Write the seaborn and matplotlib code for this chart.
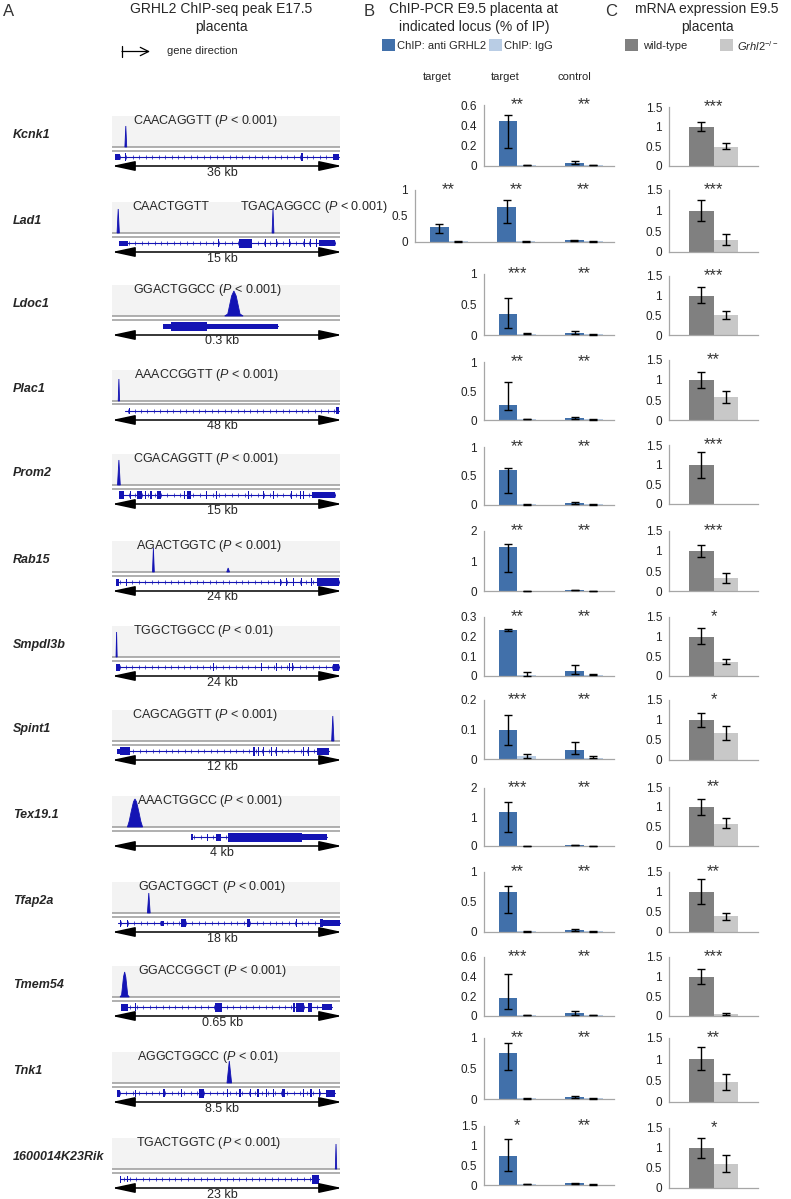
import numpy as np
import pandas as pd
import matplotlib
matplotlib.use('Agg')
import matplotlib.pyplot as plt
from matplotlib.patches import Rectangle, Polygon, FancyArrowPatch
from matplotlib.lines import Line2D
import seaborn as sns

# ---- data -------------------------------------------------------------
genes = ['Kcnk1', 'Lad1', 'Ldoc1', 'Plac1', 'Prom2', 'Rab15', 'Smpdl3b',
         'Spint1', 'Tex19.1', 'Tfap2a', 'Tmem54', 'Tnk1', '1600014K23Rik']

# A: ChIP-seq tracks
motifs = ['CAACAGGTT', 'TGACAGGCC', 'GGACTGGCC', 'AAACCGGTT', 'CGACAGGTT',
          'AGACTGGTC', 'TGGCTGGCC', 'CAGCAGGTT', 'AAACTGGCC', 'GGACTGGCT',
          'GGACCGGCT', 'AGGCTGGCC', 'TGACTGGTC']
pvals = ['0.001', '0.001', '0.001', '0.001', '0.001', '0.001', '0.01',
         '0.001', '0.001', '0.001', '0.001', '0.01', '0.001']
lad1_extra_motif = 'CAACTGGTT'
track_kb = ['36 kb', '15 kb', '0.3 kb', '48 kb', '15 kb', '24 kb', '24 kb',
            '12 kb', '4 kb', '18 kb', '0.65 kb', '8.5 kb', '23 kb']

# B: ChIP-PCR, % of IP (bar value, error low, error high)
chip_target = [0.44, 0.68, 0.35, 0.26, 0.61, 1.48, 0.235, 0.10, 1.17, 0.66, 0.18, 0.76, 0.74]
chip_target_lo = [0.18, 0.37, 0.11, 0.18, 0.20, 0.63, 0.229, 0.047, 0.50, 0.31, 0.07, 0.47, 0.35]
chip_target_hi = [0.50, 0.80, 0.61, 0.65, 0.63, 1.56, 0.241, 0.15, 1.53, 0.76, 0.43, 0.92, 1.17]
igg_target = [0.01, 0.01, 0.02, 0.02, 0.01, 0.01, 0.006, 0.01, 0.01, 0.01, 0.01, 0.01, 0.02]
igg_target_lo = [0.007, 0.006, 0.015, 0.015, 0.007, 0.006, 0.002, 0.003, 0.006, 0.007, 0.007, 0.007, 0.015]
igg_target_hi = [0.013, 0.014, 0.025, 0.025, 0.013, 0.014, 0.018, 0.018, 0.014, 0.013, 0.013, 0.013, 0.025]
chip_control = [0.03, 0.03, 0.03, 0.03, 0.03, 0.03, 0.025, 0.03, 0.04, 0.03, 0.03, 0.03, 0.04]
chip_control_lo = [0.015, 0.015, 0.015, 0.015, 0.015, 0.025, 0.012, 0.018, 0.03, 0.015, 0.015, 0.02, 0.03]
chip_control_hi = [0.05, 0.045, 0.06, 0.05, 0.05, 0.045, 0.055, 0.057, 0.05, 0.05, 0.05, 0.05, 0.05]
igg_control = [0.01, 0.01, 0.01, 0.01, 0.01, 0.01, 0.007, 0.005, 0.01, 0.01, 0.01, 0.01, 0.01]
igg_control_lo = [0.007, 0.007, 0.007, 0.007, 0.007, 0.006, 0.004, 0.002, 0.006, 0.007, 0.007, 0.007, 0.007]
igg_control_hi = [0.013, 0.013, 0.013, 0.013, 0.013, 0.014, 0.01, 0.009, 0.014, 0.013, 0.013, 0.013, 0.013]
# Lad1 has a second target locus
lad1_t1_chip, lad1_t1_chip_lo, lad1_t1_chip_hi = 0.29, 0.17, 0.34
lad1_t1_igg, lad1_t1_igg_lo, lad1_t1_igg_hi = 0.01, 0.006, 0.014
lad1_t1_stars = '**'
chip_ticks = [[0, 0.2, 0.4, 0.6], [0, 0.5, 1], [0, 0.5, 1], [0, 0.5, 1], [0, 0.5, 1],
              [0, 1, 2], [0, 0.1, 0.2, 0.3], [0, 0.1, 0.2], [0, 1, 2], [0, 0.5, 1],
              [0, 0.2, 0.4, 0.6], [0, 0.5, 1], [0, 0.5, 1, 1.5]]
stars_target = ['**', '**', '***', '**', '**', '**', '**', '***', '***', '**', '***', '**', '*']
stars_control = ['**'] * 13

# C: mRNA expression
wt_expr = [1, 1, 1, 1, 1, 1, 1, 1, 1, 1, 1, 1, 1]
wt_lo = [0.88, 0.75, 0.81, 0.79, 0.67, 0.86, 0.81, 0.83, 0.80, 0.70, 0.82, 0.74, 0.76]
wt_hi = [1.13, 1.27, 1.21, 1.21, 1.31, 1.16, 1.21, 1.18, 1.20, 1.32, 1.20, 1.28, 1.24]
ko_expr = [0.49, 0.29, 0.50, 0.57, 0.0, 0.32, 0.36, 0.68, 0.57, 0.39, 0.05, 0.47, 0.61]
ko_lo = [0.42, 0.17, 0.41, 0.43, None, 0.20, 0.30, 0.51, 0.45, 0.31, 0.02, 0.28, 0.41]
ko_hi = [0.59, 0.44, 0.62, 0.73, None, 0.44, 0.43, 0.86, 0.71, 0.48, 0.08, 0.66, 0.83]
mrna_ticks = [0, 0.5, 1, 1.5]
stars_mrna = ['***', '***', '***', '**', '***', '***', '*', '*', '**', '**', '***', '**', '*']

# track drawing content: peaks (centre, width, height px, shape)
peaks = [
    [(0.06, 0.008, 21, 'spike')],
    [(0.027, 0.01, 24, 'spike'), (0.70, 0.008, 24, 'spike')],
    [(0.53, 0.08, 25, 'tent')],
    [(0.03, 0.006, 22, 'spike')],
    [(0.03, 0.012, 25, 'spike')],
    [(0.18, 0.008, 24, 'spike'), (0.505, 0.012, 4, 'spike')],
    [(0.02, 0.005, 25, 'spike')],
    [(0.96, 0.01, 25, 'spike')],
    [(0.10, 0.066, 28, 'mound')],
    [(0.16, 0.012, 20, 'spike')],
    [(0.055, 0.04, 25, 'tent')],
    [(0.51, 0.02, 22, 'spike')],
    [(0.974, 0.006, 25, 'spike')],
]
gene_span = [(0.02, 0.985), (0.03, 0.97), (0.22, 0.72), (0.055, 0.985), (0.03, 0.97),
             (0.018, 0.986), (0.018, 0.986), (0.022, 0.943), (0.342, 0.935), (0.026, 0.993),
             (0.037, 0.956), (0.02, 0.97), (0.035, 0.9)]
exons = [
    [(0.015, 0.02, 6), (0.055, 0.004, 8), (0.82, 0.01, 8), (0.96, 0.025, 6)],
    [(0.03, 0.04, 5), (0.085, 0.004, 8), (0.46, 0.004, 8), (0.55, 0.06, 9), (0.665, 0.004, 8),
     (0.715, 0.004, 8), (0.77, 0.004, 8), (0.835, 0.005, 8), (0.86, 0.005, 8),
     (0.885, 0.005, 8), (0.9, 0.07, 6)],
    [(0.22, 0.5, 5), (0.255, 0.16, 9)],
    [(0.075, 0.003, 6), (0.975, 0.012, 7)],
    [(0.03, 0.02, 8), (0.079, 0.004, 8), (0.11, 0.02, 8), (0.145, 0.004, 8), (0.167, 0.005, 8),
     (0.196, 0.015, 8), (0.237, 0.004, 8), (0.313, 0.004, 8), (0.327, 0.015, 8),
     (0.408, 0.004, 8), (0.437, 0.004, 8), (0.452, 0.004, 8), (0.59, 0.004, 8),
     (0.656, 0.004, 8), (0.70, 0.004, 8), (0.737, 0.004, 8), (0.759, 0.004, 8),
     (0.78, 0.004, 8), (0.817, 0.004, 8), (0.832, 0.004, 8), (0.868, 0.1, 6)],
    [(0.018, 0.014, 7), (0.063, 0.004, 7), (0.73, 0.003, 7), (0.757, 0.004, 8),
     (0.786, 0.004, 8), (0.823, 0.004, 8), (0.866, 0.004, 8), (0.89, 0.096, 8)],
    [(0.018, 0.015, 7), (0.44, 0.004, 8), (0.498, 0.004, 8), (0.649, 0.004, 8),
     (0.715, 0.004, 8), (0.77, 0.004, 8), (0.782, 0.004, 8), (0.96, 0.026, 7)],
    [(0.022, 0.013, 5), (0.035, 0.045, 8), (0.614, 0.006, 9), (0.634, 0.006, 9),
     (0.655, 0.006, 9), (0.69, 0.004, 9), (0.712, 0.004, 9), (0.83, 0.004, 9),
     (0.852, 0.006, 9), (0.89, 0.053, 7)],
    [(0.342, 0.01, 6), (0.412, 0.004, 7), (0.45, 0.025, 7), (0.506, 0.32, 9), (0.825, 0.11, 6)],
    [(0.035, 0.004, 7), (0.066, 0.003, 7), (0.213, 0.015, 5), (0.30, 0.02, 8), (0.49, 0.003, 8),
     (0.588, 0.012, 8), (0.69, 0.003, 8), (0.80, 0.003, 8), (0.904, 0.012, 8), (0.916, 0.077, 6)],
    [(0.037, 0.033, 7), (0.1, 0.003, 8), (0.449, 0.029, 9), (0.787, 0.008, 9),
     (0.80, 0.035, 9), (0.85, 0.018, 9), (0.912, 0.044, 6)],
    [(0.02, 0.015, 7), (0.06, 0.003, 7), (0.1, 0.003, 7), (0.22, 0.01, 8), (0.3, 0.003, 8),
     (0.38, 0.02, 9), (0.45, 0.003, 8), (0.5, 0.003, 8), (0.55, 0.01, 8), (0.6, 0.003, 8),
     (0.63, 0.01, 8), (0.67, 0.003, 8), (0.7, 0.003, 8), (0.74, 0.01, 8), (0.79, 0.003, 8),
     (0.83, 0.003, 8), (0.86, 0.01, 8), (0.9, 0.003, 8), (0.93, 0.04, 7)],
    [(0.035, 0.004, 7), (0.066, 0.003, 6), (0.87, 0.03, 9)],
]
motif_x = [0.09, 0.555, 0.092, 0.097, 0.09, 0.105, 0.09, 0.088, 0.11, 0.115, 0.115, 0.11, 0.105]

# ---- style --------------------------------------------------------------
sns.set_style('white')
plt.rcParams['font.family'] = ['Liberation Sans', 'DejaVu Sans']
plt.rcParams['mathtext.fontset'] = 'custom'
plt.rcParams['mathtext.rm'] = 'Liberation Sans'
plt.rcParams['mathtext.it'] = 'Liberation Sans:italic'

BLUE, LBLUE = '#4170AA', '#B9CDE5'
DGRAY, LGRAY = '#808080', '#C8C8C8'
TRACK = '#1414B4'
SPINE = '#A6A6A6'

W, H = 791, 1199
fig = plt.figure(figsize=(W / 100, H / 100), dpi=100)


def fx(x):
    return x / W


def fy(y):
    return 1 - y / H


def add_ax(x0, ytop, x1, ybot):
    return fig.add_axes([fx(x0), fy(ybot), (x1 - x0) / W, (ybot - ytop) / H])


def style_bar_ax(ax, ticks):
    sns.despine(ax=ax)
    for s in ['left', 'bottom']:
        ax.spines[s].set_color(SPINE)
        ax.spines[s].set_linewidth(0.9)
    ax.set_ylim(0, ticks[-1])
    ax.set_yticks(ticks)
    ax.set_yticklabels([f'{t:g}' for t in ticks])
    ax.tick_params(axis='y', length=3, width=0.8, color=SPINE, labelsize=8.5, pad=2,
                   labelcolor='#222222')
    ax.set_xticks([])
    ax.set_xlabel('')
    ax.set_ylabel('')


def stars(ax, x, y, s):
    ax.text(x, y, s, ha='center', va='center', fontsize=12, color='#333333')


# row layout in pixels
b_top = [105, 190, 274, 362, 447, 531, 617, 700, 788, 872, 957, 1038, 1126]
b_bot = [166, 242, 335, 420, 505, 591, 676, 759, 846, 932, 1016, 1099, 1185]
c_top = [107, 190, 276, 360, 445, 531, 617, 700, 787, 872, 957, 1038, 1128]
c_bot = [166, 252, 335, 420, 504, 591, 676, 760, 846, 932, 1016, 1102, 1188]

loci = ['target1', 'target', 'control']
abs_ = ['anti GRHL2', 'IgG']

for i, g in enumerate(genes):
    # ---- gene label
    fig.text(fx(13), fy(c_bot[i] - 31), g, fontsize=9, fontweight='bold',
             fontstyle='italic', va='center', ha='left')

    # ---- A: track
    ax = add_ax(112, c_bot[i] - 52, 342, c_bot[i] + 14)
    ax.set_xlim(0, 1)
    ax.set_ylim(-14, 52)
    ax.axis('off')
    ax.add_patch(Rectangle((0, 19), 0.99, 31, facecolor='#F3F3F3', edgecolor='none', zorder=0))
    ax.hlines([15.5, 19], 0, 0.99, color='#9A9A9A', lw=1.1, zorder=1)
    for c, w, h, shape in peaks[i]:
        if shape == 'spike':
            px_ = [c - w / 2, c, c + w / 2]
            py_ = [19, 19 + h, 19]
        elif shape == 'tent':
            px_ = [c - w / 2, c - w / 3, c - w / 8, c, c + w / 8, c + w / 3, c + w / 2]
            py_ = [19, 21, 19 + 0.8 * h, 19 + h, 19 + 0.8 * h, 21, 19]
        else:
            px_ = [c - w / 2, c - w / 2.6, c - w / 4, c - w / 10, c, c + w / 10, c + w / 4, c + w / 2.6, c + w / 2]
            py_ = [19, 19 + 0.2 * h, 19 + 0.55 * h, 19 + 0.9 * h, 19 + h, 19 + 0.9 * h, 19 + 0.55 * h, 19 + 0.2 * h, 19]
        ax.add_patch(Polygon(list(zip(px_, py_)), closed=True, facecolor=TRACK,
                             edgecolor=TRACK, lw=0.6, zorder=2))
    s0, s1 = gene_span[i]
    ax.plot([s0, s1], [9, 9], color=TRACK, lw=0.8, zorder=2)
    chev = np.arange(s0 + 0.015, s1, 0.028)
    ax.plot(chev, np.full(len(chev), 9), '|', color=TRACK, ms=2.5, mew=0.5, zorder=2)
    for x0, w, h in exons[i]:
        ax.add_patch(Rectangle((x0, 9 - h / 2), w, h, facecolor=TRACK, edgecolor='none', zorder=3))
    ax.annotate('', xy=(1.0, 0), xytext=(0, 0),
                arrowprops=dict(arrowstyle='<|-|>,head_length=1.4,head_width=0.3',
                                color='black', lw=1.1, shrinkA=0, shrinkB=0, mutation_scale=10))
    ax.text(0.48, -6.5, track_kb[i], ha='center', va='center', fontsize=9)
    ax.text(motif_x[i], 45, f'{motifs[i]} ($P$ < {pvals[i]})', ha='left', va='center',
            fontsize=9, zorder=4)
    if g == 'Lad1':
        ax.text(0.09, 45, lad1_extra_motif, ha='left', va='center', fontsize=9, zorder=4)

    # ---- B: ChIP-PCR
    lad = g == 'Lad1'
    ax = add_ax(415 if lad else 484, b_top[i], 614, b_bot[i])
    rows = []
    vals = []
    if lad:
        rows += [('target1', 'anti GRHL2', lad1_t1_chip), ('target1', 'IgG', lad1_t1_igg)]
        vals += [(0 - 0.14, lad1_t1_chip, lad1_t1_chip_lo, lad1_t1_chip_hi),
                 (0 + 0.14, lad1_t1_igg, lad1_t1_igg_lo, lad1_t1_igg_hi)]
    rows += [('target', 'anti GRHL2', chip_target[i]), ('target', 'IgG', igg_target[i]),
             ('control', 'anti GRHL2', chip_control[i]), ('control', 'IgG', igg_control[i])]
    vals += [(1 - 0.14, chip_target[i], chip_target_lo[i], chip_target_hi[i]),
             (1 + 0.14, igg_target[i], igg_target_lo[i], igg_target_hi[i]),
             (2 - 0.14, chip_control[i], chip_control_lo[i], chip_control_hi[i]),
             (2 + 0.14, igg_control[i], igg_control_lo[i], igg_control_hi[i])]
    df = pd.DataFrame(rows, columns=['locus', 'ab', 'value'])
    sns.barplot(data=df, x='locus', y='value', hue='ab', order=loci, hue_order=abs_,
                palette=[BLUE, LBLUE], width=0.56, errorbar=None, legend=False,
                saturation=1, linewidth=0, ax=ax)
    for x, v, lo, hi in vals:
        ax.errorbar(x, v, yerr=[[v - lo], [hi - v]], fmt='none', ecolor='black',
                    elinewidth=1, capsize=3, capthick=1, zorder=5, clip_on=False)
    style_bar_ax(ax, chip_ticks[i])
    ax.set_xlim(-0.5 if lad else 0.5, 2.45)
    top = chip_ticks[i][-1]
    if lad:
        stars(ax, 0, top, lad1_t1_stars)
    stars(ax, 1, top, stars_target[i])
    stars(ax, 2, top, stars_control[i])

    # ---- C: mRNA expression
    ax = add_ax(669, c_top[i], 758, c_bot[i])
    df = pd.DataFrame({'geno': ['wild-type', 'ko'], 'value': [wt_expr[i], ko_expr[i]],
                       'x': ['g', 'g']})
    sns.barplot(data=df, x='x', y='value', hue='geno', hue_order=['wild-type', 'ko'],
                palette=[DGRAY, LGRAY], width=0.56, errorbar=None, legend=False,
                saturation=1, linewidth=0, ax=ax)
    ax.errorbar(-0.14, wt_expr[i], yerr=[[wt_expr[i] - wt_lo[i]], [wt_hi[i] - wt_expr[i]]],
                fmt='none', ecolor='black', elinewidth=1, capsize=3, capthick=1, zorder=5)
    if ko_lo[i] is not None:
        ax.errorbar(0.14, ko_expr[i], yerr=[[ko_expr[i] - ko_lo[i]], [ko_hi[i] - ko_expr[i]]],
                    fmt='none', ecolor='black', elinewidth=1, capsize=3, capthick=1, zorder=5)
    style_bar_ax(ax, mrna_ticks)
    ax.set_xlim(-0.5, 0.5)
    stars(ax, 0, 1.5, stars_mrna[i])

# ---- headers ----------------------------------------------------------------
fig.text(fx(3), fy(11), 'A', fontsize=12, va='center', color='#333333')
fig.text(fx(221), fy(18), 'GRHL2 ChIP-seq peak E17.5\nplacenta', fontsize=10,
         ha='center', va='center', linespacing=1.35)
fig.add_artist(Line2D([fx(122), fx(122)], [fy(46), fy(57)], color='black', lw=0.9,
                      transform=fig.transFigure))
fig.add_artist(FancyArrowPatch((fx(122), fy(51.5)), (fx(150), fy(51.5)),
                               arrowstyle='->,head_length=0.6,head_width=0.3',
                               transform=fig.transFigure, mutation_scale=10, lw=0.9,
                               color='black', shrinkA=0, shrinkB=0))
fig.text(fx(167), fy(51), 'gene direction', fontsize=8, va='center')

fig.text(fx(364), fy(11), 'B', fontsize=12, va='center', color='#333333')
fig.text(fx(474), fy(18), 'ChIP-PCR E9.5 placenta at\nindicated locus (% of IP)', fontsize=10,
         ha='center', va='center', linespacing=1.35)
fig.add_artist(Rectangle((fx(382), fy(51)), 13 / W, 12 / H, facecolor=BLUE, edgecolor='none',
                         transform=fig.transFigure))
fig.text(fx(397), fy(46), 'ChIP: anti GRHL2', fontsize=8, va='center')
fig.add_artist(Rectangle((fx(489), fy(51)), 13 / W, 12 / H, facecolor=LBLUE, edgecolor='none',
                         transform=fig.transFigure))
fig.text(fx(504), fy(46), 'ChIP: IgG', fontsize=8, va='center')
for x, lab in [(437, 'target'), (505, 'target'), (574, 'control')]:
    fig.text(fx(x), fy(77), lab, fontsize=8, ha='center', va='center')

fig.text(fx(605), fy(11), 'C', fontsize=12, va='center', color='#333333')
fig.text(fx(707), fy(18), 'mRNA expression E9.5\nplacenta', fontsize=10,
         ha='center', va='center', linespacing=1.35)
fig.add_artist(Rectangle((fx(625), fy(51)), 13 / W, 12 / H, facecolor=DGRAY, edgecolor='none',
                         transform=fig.transFigure))
fig.text(fx(643), fy(46), 'wild-type', fontsize=8, va='center')
fig.add_artist(Rectangle((fx(720), fy(51)), 13 / W, 12 / H, facecolor=LGRAY, edgecolor='none',
                         transform=fig.transFigure))
fig.text(fx(737), fy(46), r'$Grhl2^{-/-}$', fontsize=8, va='center')

fig.savefig('out.png', dpi=100)
